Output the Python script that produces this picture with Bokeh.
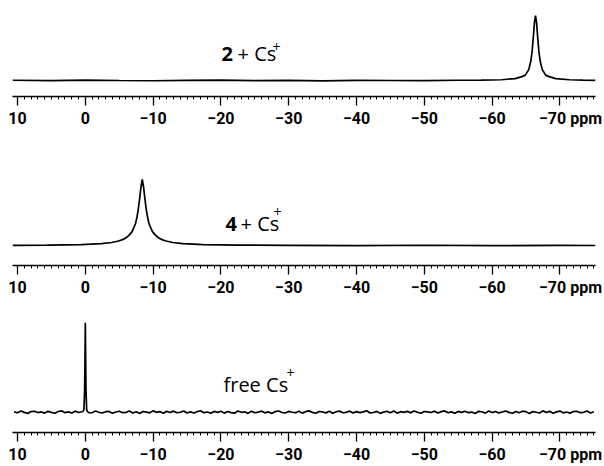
from bokeh.plotting import figure
from bokeh.models import Range1d, FixedTicker, Label
from bokeh.layouts import column
from bokeh.embed import file_html
from bokeh.resources import INLINE

# ---------------- data ----------------
major_ticks = [10, 0, -10, -20, -30, -40, -50, -60, -70]
tick_text = ["10", "0", "\u221210", "\u221220", "\u221230", "\u221240", "\u221250", "\u221260",
             "\u2007\u2007\u2009\u221270 ppm"]
minor_ticks = list(range(10, -76, -1))

# panel 1 : 2 + Cs+
ppm1 = [10.74, 5, 0, -5, -10, -15, -20, -25, -30, -35, -40, -45, -50, -55,
        -58.4, -61.4, -63.4, -64.4, -64.9, -65.4, -65.7, -65.9, -66.1, -66.25, -66.4,
        -66.55, -66.7, -66.9, -67.1, -67.4, -67.9, -68.4, -69.4, -71.4, -73.4, -75.25]
int1 = [0.004, -0.003, 0.005, 0.0, -0.004, 0.003, 0.006, -0.002, 0.002, -0.005, 0.003, 0.0, -0.003, 0.004,
        0.005, 0.012, 0.03, 0.06, 0.083, 0.168, 0.292, 0.448, 0.692, 0.9, 1.0,
        0.9, 0.692, 0.448, 0.292, 0.168, 0.083, 0.06, 0.03, 0.012, 0.006, 0.002]

# panel 2 : 4 + Cs+
ppm2 = [10.74, 5.6, 0.6, -2.4, -3.9, -4.9, -5.4, -5.9, -6.4, -6.9, -7.4, -7.6, -7.8, -8.0, -8.2, -8.4,
        -8.6, -8.8, -9.0, -9.2, -9.4, -9.9, -10.4, -10.9, -11.4, -11.9, -12.9, -14.4, -17.4, -22.4,
        -30, -40, -50, -60, -70, -75.25]
int2 = [0.003, 0.006, 0.014, 0.028, 0.045, 0.068, 0.085, 0.11, 0.15, 0.21, 0.33, 0.42, 0.54, 0.70, 0.88, 1.0,
        0.88, 0.70, 0.54, 0.42, 0.33, 0.21, 0.15, 0.11, 0.085, 0.068, 0.045, 0.028, 0.014, 0.006,
        0.002, -0.003, 0.004, -0.002, 0.003, 0.0]

# panel 3 : free Cs+
ppm3 = [10.5, 10.0, 9.5, 9.0, 8.5, 8.0, 7.5, 7.0, 6.5, 6.0,
        5.5, 5.0, 4.5, 4.0, 3.5, 3.0, 2.5, 2.0, 1.5, 1.0,
        0.5, 0.3, 0.2, 0.1, 0.05, 0.0, -0.05, -0.1, -0.2, -0.3, -0.5,
        -1.0, -1.5, -2.0, -2.5, -3.0, -3.5, -4.0, -4.5, -5.0, -5.5,
        -6.0, -6.5, -7.0, -7.5, -8.0, -8.5, -9.0, -9.5, -10.0, -10.5,
        -11.0, -11.5, -12.0, -12.5, -13.0, -13.5, -14.0, -14.5, -15.0, -15.5,
        -16.0, -16.5, -17.0, -17.5, -18.0, -18.5, -19.0, -19.5, -20.0, -20.5,
        -21.0, -21.5, -22.0, -22.5, -23.0, -23.5, -24.0, -24.5, -25.0, -25.5,
        -26.0, -26.5, -27.0, -27.5, -28.0, -28.5, -29.0, -29.5, -30.0, -30.5,
        -31.0, -31.5, -32.0, -32.5, -33.0, -33.5, -34.0, -34.5, -35.0, -35.5,
        -36.0, -36.5, -37.0, -37.5, -38.0, -38.5, -39.0, -39.5, -40.0, -40.5,
        -41.0, -41.5, -42.0, -42.5, -43.0, -43.5, -44.0, -44.5, -45.0, -45.5,
        -46.0, -46.5, -47.0, -47.5, -48.0, -48.5, -49.0, -49.5, -50.0, -50.5,
        -51.0, -51.5, -52.0, -52.5, -53.0, -53.5, -54.0, -54.5, -55.0, -55.5,
        -56.0, -56.5, -57.0, -57.5, -58.0, -58.5, -59.0, -59.5, -60.0, -60.5,
        -61.0, -61.5, -62.0, -62.5, -63.0, -63.5, -64.0, -64.5, -65.0, -65.5,
        -66.0, -66.5, -67.0, -67.5, -68.0, -68.5, -69.0, -69.5, -70.0, -70.5,
        -71.0, -71.5, -72.0, -72.5, -73.0, -73.5, -74.0, -74.5, -75.0]
int3 = [0.004, -0.008, 0.012, -0.003, -0.014, 0.006, 0.010, -0.005, 0.002, -0.011,
        0.009, -0.002, -0.012, 0.007, 0.015, -0.006, 0.003, -0.009, 0.011, -0.004,
        0.004, 0.010, 0.03, 0.25, 0.6, 1.0, 0.6, 0.25, 0.03, 0.008, -0.005,
        -0.007, 0.013, -0.001, -0.010, 0.005, 0.008, -0.013, 0.002, 0.010, -0.006,
        -0.003, 0.012, -0.009, 0.004, -0.015, 0.007, 0.001, -0.008, 0.014, -0.002,
        0.006, -0.012, 0.009, -0.004, 0.011, -0.007, -0.001, 0.013, -0.010, 0.003,
        -0.009, 0.005, 0.015, -0.006, 0.002, -0.013, 0.008, -0.003, 0.010, -0.011,
        0.007, -0.005, -0.012, 0.012, -0.002, 0.004, -0.014, 0.009, -0.007, 0.001,
        0.011, -0.008, 0.003, -0.015, 0.006, 0.013, -0.004, -0.009, 0.008, -0.001,
        -0.006, 0.010, -0.011, 0.005, 0.014, -0.003, -0.012, 0.007, 0.002, -0.008,
        0.009, -0.013, 0.004, 0.012, -0.007, -0.002, 0.011, -0.010, 0.006, -0.005,
        0.003, 0.015, -0.009, -0.004, 0.008, -0.014, 0.001, 0.010, -0.006, 0.012,
        -0.011, 0.005, -0.003, 0.009, -0.008, 0.013, -0.001, -0.012, 0.007, 0.002,
        -0.004, 0.011, -0.010, 0.006, 0.014, -0.007, 0.003, -0.013, 0.008, -0.002,
        0.010, -0.006, 0.001, -0.015, 0.009, 0.004, -0.011, 0.012, -0.005, 0.007,
        -0.009, 0.002, 0.013, -0.003, -0.012, 0.008, -0.007, 0.011, 0.005, -0.014,
        0.006, -0.001, -0.010, 0.014, -0.004, 0.009, -0.013, 0.003, 0.012, -0.008,
        0.001, -0.011, 0.007, 0.010, -0.006, -0.002, 0.013, -0.009, 0.005]

labels1 = ["2", "+ Cs", "+"]
labels2 = ["4", "+ Cs", "+"]
labels3 = ["free Cs", "+"]

# ---------------- styling ----------------
X_RANGE = (10.74, -75.25)
TICK_FONT = "Roboto"
TEXT_FONT = "Open Sans"


def make_panel(ppm, inten, height, y0, y1, border_bottom):
    p = figure(width=604, height=height,
               x_range=Range1d(*X_RANGE), y_range=Range1d(y0, y1),
               output_backend="svg", toolbar_location=None,
               y_axis_location=None, x_axis_location="below",
               min_border=0, min_border_left=12, min_border_right=9,
               min_border_top=0, min_border_bottom=border_bottom)
    p.outline_line_color = None
    p.grid.visible = False
    p.background_fill_color = "white"
    p.border_fill_color = "white"
    p.line(ppm, inten, line_color="black", line_width=1.7)

    ax = p.xaxis[0]
    ax.ticker = FixedTicker(ticks=major_ticks, minor_ticks=minor_ticks)
    ax.major_label_overrides = {t: s for t, s in zip(major_ticks, tick_text)}
    ax.axis_line_color = "black"
    ax.axis_line_width = 1.3
    ax.major_tick_line_color = "black"
    ax.major_tick_line_width = 1.3
    ax.major_tick_out = 9
    ax.major_tick_in = 0
    ax.minor_tick_line_color = "black"
    ax.minor_tick_line_width = 1.0
    ax.minor_tick_out = 3
    ax.minor_tick_in = 0
    ax.major_label_standoff = 3
    ax.major_label_text_font = TICK_FONT
    ax.major_label_text_font_style = "bold"
    ax.major_label_text_font_size = "16px"
    ax.major_label_text_color = "black"
    return p


def add_text(p, x, y, text, size, style="normal"):
    p.add_layout(Label(x=x, y=y, text=text, text_font=TEXT_FONT,
                       text_font_size=size, text_font_style=style,
                       text_color="black", text_align="left",
                       text_baseline="alphabetic"))


p1 = make_panel(ppm1, int1, 130, -0.246, 1.231, 34)
add_text(p1, -20.09, 0.415, labels1[0], "20px", "bold")
add_text(p1, -22.45, 0.415, labels1[1], "20px")
add_text(p1, -27.61, 0.508, labels1[2], "14px")

p2 = make_panel(ppm2, int2, 170, -0.303, 1.742, 35)
add_text(p2, -20.68, 0.333, labels2[0], "20px", "bold")
add_text(p2, -22.89, 0.333, labels2[1], "20px")
add_text(p2, -27.76, 0.515, labels2[2], "14px")

p3 = make_panel(ppm3, int3, 166, -0.228, 1.25, 30)
add_text(p3, -20.38, 0.315, labels3[0], "20px")
add_text(p3, -29.67, 0.435, labels3[1], "14px")

layout = column(p1, p2, p3, spacing=0)
open("out.html", "w").write(file_html(layout, INLINE))
